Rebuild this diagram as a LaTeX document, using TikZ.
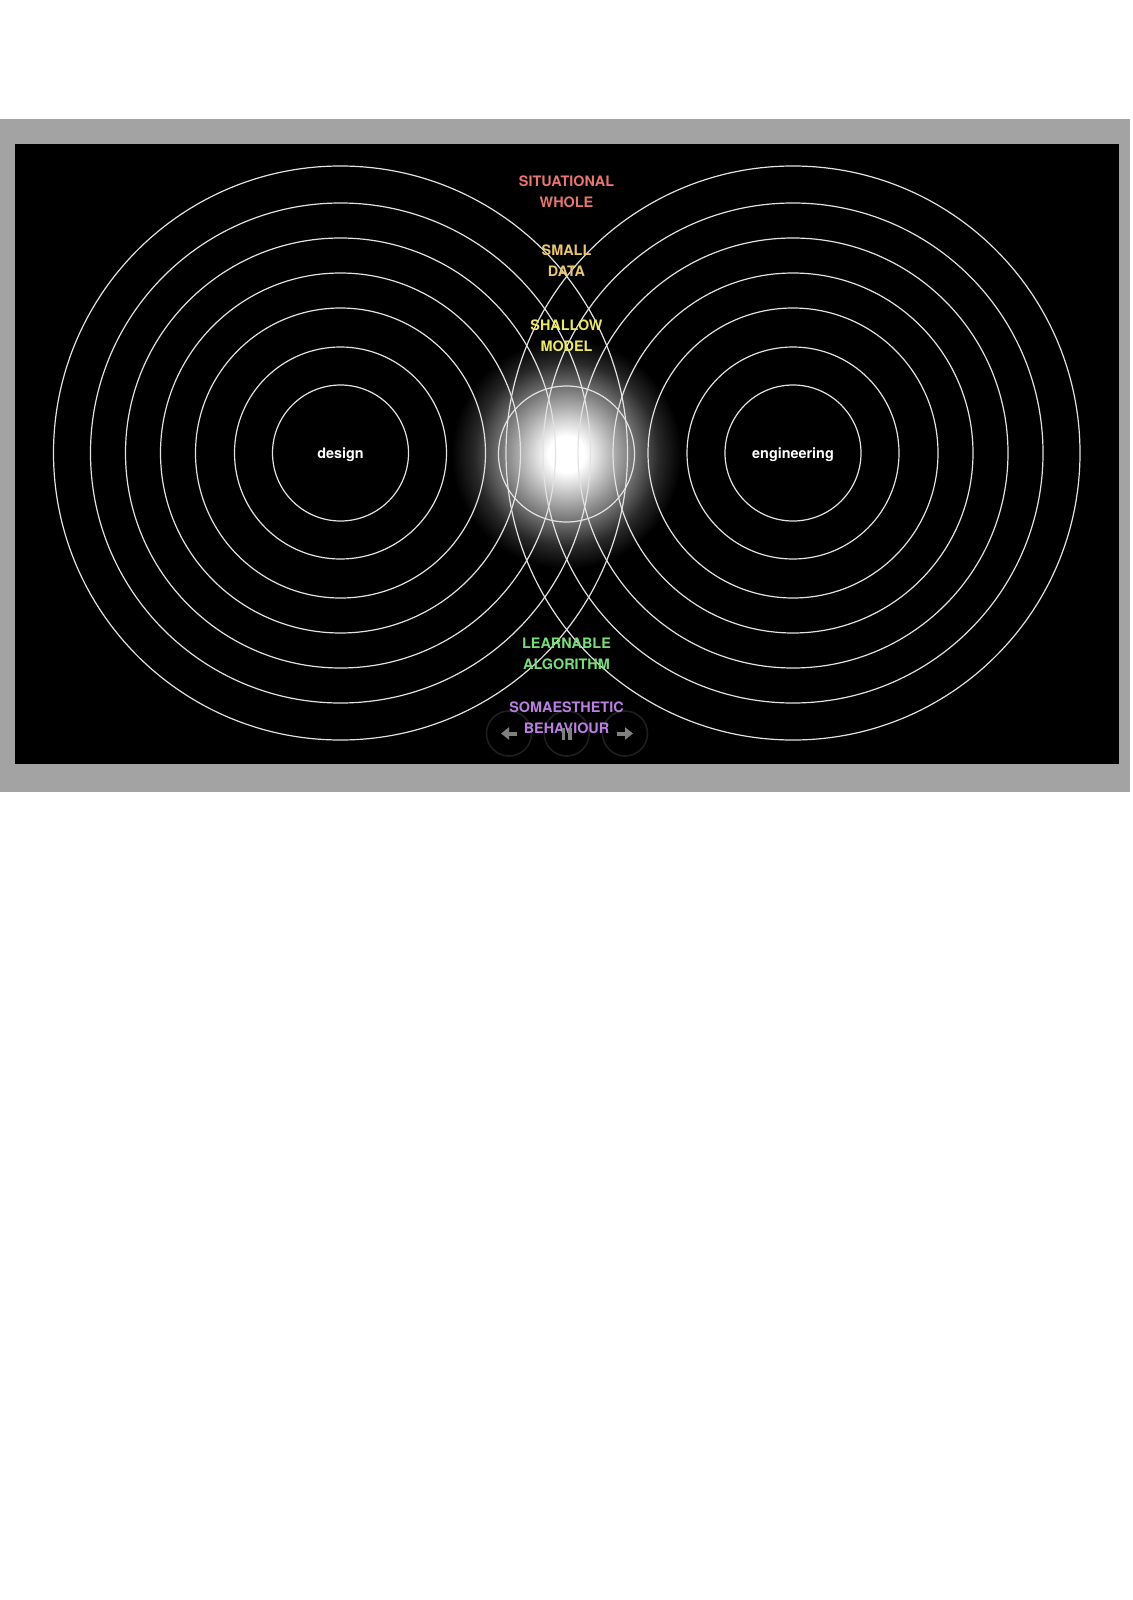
\documentclass[tikz,border=0pt]{standalone}
\usepackage{fontspec}
\setmainfont{TeX Gyre Heros}
\usetikzlibrary{arrows.meta}
\definecolor{slideframe}{RGB}{163,163,163}
\definecolor{ringline}{RGB}{226,226,226}
\definecolor{lblred}{RGB}{232,118,112}
\definecolor{lblgold}{RGB}{234,198,112}
\definecolor{lblyellow}{RGB}{238,232,104}
\definecolor{lblgreen}{RGB}{122,220,122}
\definecolor{lblpurple}{RGB}{188,128,228}
\definecolor{ctrlline}{RGB}{30,30,30}
\definecolor{ctrlicon}{RGB}{128,128,128}
\pgfdeclareradialshading{glow}{\pgfpoint{0bp}{0bp}}{color(0bp)=(white); color(4bp)=(white); color(7bp)=(white!85!black); color(14bp)=(white!48!black); color(20bp)=(white!16!black); color(25bp)=(black); color(50bp)=(black)}

\begin{document}
\begin{tikzpicture}[x=1pt,y=-1pt,
  ring/.style={ringline,line width=1.2pt},
  lbl/.style={font=\fontsize{14.4}{21}\selectfont\bfseries,align=center,inner sep=0pt},
  ctrl/.style={draw=ctrlline,line width=1.6pt,circle,minimum size=45pt,inner sep=0pt}]
  \useasboundingbox (0,0) rectangle (1132,1600);
  \fill[white] (0,0) rectangle (1132,1600);
  \fill[slideframe] (0,119.5) rectangle (1130,792);
  \fill[black] (15,144) rectangle (1119,764);
  \coordinate (mid) at (566.5,454);
  \shade[shading=glow] (mid) circle[radius=115pt];
  \node[lbl,white] (dsg) at (340.5,455) {design};
  \node[lbl,white] (eng) at (793,455) {engineering};
  \foreach \r in {68,106,145,180,215,250,287} {
    \draw[ring] ([yshift=2pt]dsg.center) circle[radius=\r pt];
    \draw[ring] ([yshift=2pt]eng.center) circle[radius=\r pt];
  }
  \draw[ring] (mid) circle[radius=68pt];
  \node[ctrl] (prev) at (509,733.5) {};
  \node[ctrl] (pause) at (566.7,733.5) {};
  \node[ctrl] (next) at (625,733.5) {};
  \node[lbl,lblred] (whole) at (566.5,191.5) {SITUATIONAL\\WHOLE};
  \node[lbl,lblgold] (data) at (566.5,260.5) {SMALL\\DATA};
  \node[lbl,lblyellow] (model) at (566.5,335.5) {SHALLOW\\MODEL};
  \node[lbl,lblgreen] (algo) at (566.5,653.5) {LEARNABLE\\ALGORITHM};
  \node[lbl,lblpurple] (soma) at (566.5,717.5) {SOMAESTHETIC\\BEHAVIOUR};
  \draw[ctrlicon,line width=4pt,-{Triangle[length=8pt,width=12pt]}] ([xshift=8pt]prev.center) -- ([xshift=-8pt]prev.center);
  \draw[ctrlicon,line width=4pt,-{Triangle[length=8pt,width=12pt]}] ([xshift=-8pt]next.center) -- ([xshift=8pt]next.center);
  \fill[ctrlicon] ([xshift=-5pt,yshift=6pt]pause.center) rectangle ([xshift=-1.5pt,yshift=-6pt]pause.center);
  \fill[ctrlicon] ([xshift=1.5pt,yshift=6pt]pause.center) rectangle ([xshift=5pt,yshift=-6pt]pause.center);
\end{tikzpicture}
\end{document}
